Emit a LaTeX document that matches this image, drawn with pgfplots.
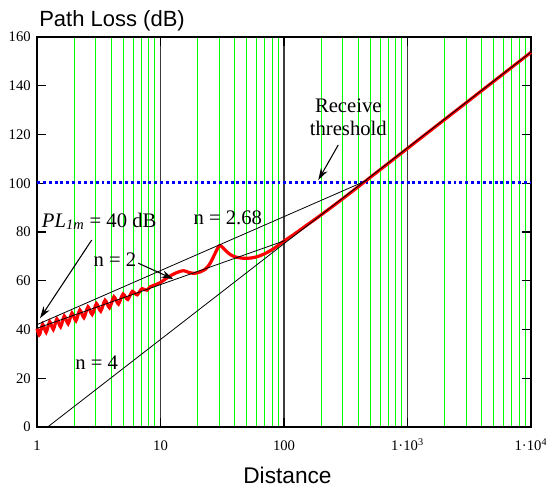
\documentclass[border=0pt]{standalone}
\usepackage{fontspec}
\setmainfont{Liberation Serif}
\newfontfamily\arialfont{Liberation Sans}
\usepackage{pgfplots}
\pgfplotsset{compat=1.18}
\usetikzlibrary{arrows.meta}
\definecolor{gridgreen}{RGB}{0,255,0}
\definecolor{darkline}{RGB}{60,60,60}
\begin{document}
\begin{tikzpicture}
\begin{axis}[
  scale only axis,
  width=370.5pt, height=292.5pt,
  xmode=log, log basis x=10,
  xmin=1, xmax=10000, ymin=0, ymax=160,
  clip=false,
  xtick={1,10,100,1000,10000},
  xticklabels={1,10,100,1·10\textsuperscript{3},1·10\textsuperscript{4}},
  ytick={0,20,40,60,80,100,120,140,160},
  minor xtick={2,3,4,5,6,7,8,9,20,30,40,50,60,70,80,90,200,300,400,500,600,700,800,900,2000,3000,4000,5000,6000,7000,8000,9000},
  xminorgrids, xmajorgrids,
  minor grid style={gridgreen, line width=0.75pt},
  major grid style={darkline, line width=0.8pt},
  tick align=inside,
  major tick length=6.75pt, minor tick length=0pt,
  tick style={black, line width=0.9pt},
  axis line style={black, line width=1.4pt},
  /pgf/number format/assume math mode=true,
  tick label style={font=\fontsize{11}{11}\selectfont},
  xticklabel style={anchor=base, inner sep=0pt, yshift=-17.8pt},
  yticklabel style={anchor=east, inner sep=0pt, xshift=-4.5pt},
]
% receive threshold
\addplot[color={rgb,255:red,0;green,0;blue,255}, line width=2pt, dash pattern=on 2.2pt off 2.2pt] coordinates {(1,100.3) (10000,100.3)};
% two-ray path loss
\addplot[red, line width=2.4pt, smooth, tension=0.6] coordinates {
(1,40.4) (1.042,37.75) (1.0765,39.93) (1.112,42.10) (1.1482,40.48) (1.186,38.85)
(1.2261,41.03) (1.268,43.22) (1.3107,41.60) (1.355,39.99) (1.4015,42.17) (1.449,44.36)
(1.4997,42.75) (1.552,41.14) (1.6069,43.34) (1.663,45.53) (1.7240,43.94) (1.786,42.34)
(1.8514,44.54) (1.919,46.75) (1.9907,45.16) (2.065,43.57) (2.1429,45.79) (2.223,48.00)
(2.3094,46.42) (2.399,44.85) (2.4918,47.07) (2.588,49.29) (2.6915,47.73) (2.799,46.16)
(2.9107,48.39) (3.027,50.63) (3.1514,49.07) (3.281,47.51) (3.4158,49.76) (3.556,52.00)
(3.7068,50.45) (3.864,48.91) (4.0272,51.16) (4.198,53.41) (4.3803,51.87) (4.571,50.44)
(4.7699,52.60) (4.977,54.56) (5.1999,53.33) (5.433,52.31) (5.6754,54.08) (5.929,55.65)
(6.2016,54.83) (6.486,54.22) (6.7842,55.60) (7.096,56.78) (7.4216,56.36) (7.763,56.14)
(8.318,57.6) (8.912,58.2)
(10,59.3) (11.22,61.1) (12.59,62.6) (14.13,63.7) (15.49,64.1) (16.98,63.4)
(18.62,63.0) (20.89,63.6) (22.91,64.6) (25.12,67.0) (27.54,71.0) (29.85,74.3)
(31.62,73.8) (34.67,71.8) (38.02,70.3) (42.66,69.5) (50.12,69.2) (58.88,69.7)
(69.18,71.0) (83.18,73.3) (100,76.3) (120.2,79.0) (147.9,82.3) (199.5,87.0)
(316.2,94.6) (1000,114.3) (3162,134.0) (10000,153.7)};
% reference lines
\addplot[black, line width=0.6pt] coordinates {(1,42) (470,101.2)};
\addplot[black, line width=0.6pt] coordinates {(1,40.5) (102,76.5)};
\addplot[black, line width=0.6pt] coordinates {(1.22,0) (10000,153.8)};
% annotations
\node[anchor=base west, inner sep=0pt, font=\fontsize{15.5}{18}\selectfont] at (axis cs:1.092,82.05) {\textit{PL}\textsubscript{\textit{1m}} = 40 dB};
\draw[-{Stealth[length=9pt,width=5.5pt]}, line width=0.8pt] (axis cs:2.773,76.7) -- (axis cs:1.057,44.6);
\node[anchor=base west, inner sep=0pt, font=\fontsize{15.5}{18}\selectfont] at (axis cs:2.857,65.8) {n = 2};
\draw[-{Stealth[length=9pt,width=5.5pt]}, line width=0.8pt] (axis cs:6.61,67.2) -- (axis cs:12.7,60.7);
\node[anchor=base west, inner sep=0pt, font=\fontsize{15.5}{18}\selectfont] at (axis cs:18.43,82.9) {n = 2.68};
\node[anchor=base west, inner sep=0pt, font=\fontsize{15.5}{18}\selectfont] at (axis cs:2.032,23.7) {n = 4};
\node[anchor=base, inner sep=0pt, font=\fontsize{15.5}{18}\selectfont] at (axis cs:331.6,129.2) {Receive};
\node[anchor=base, inner sep=0pt, font=\fontsize{15.5}{18}\selectfont] at (axis cs:331.6,119.6) {threshold};
\draw[-{Stealth[length=9pt,width=5.5pt]}, line width=0.8pt] (axis cs:275,115.7) -- (axis cs:189.5,101.3);
\end{axis}
\node[anchor=base west, inner sep=0pt, font=\arialfont\fontsize{16.5}{18}\selectfont] at ([xshift=1.5pt,yshift=7.7pt]current axis.north west) {Path Loss (dB)};
\node[anchor=base, inner sep=0pt, font=\arialfont\fontsize{17}{18}\selectfont] at ([xshift=2.6pt,yshift=-42pt]current axis.south) {Distance};
\pgfresetboundingbox
\path[use as bounding box] ([shift={(-27.75pt,-45pt)}]current axis.south west) rectangle ([shift={(11.25pt,27.75pt)}]current axis.north east);
\end{tikzpicture}
\end{document}
